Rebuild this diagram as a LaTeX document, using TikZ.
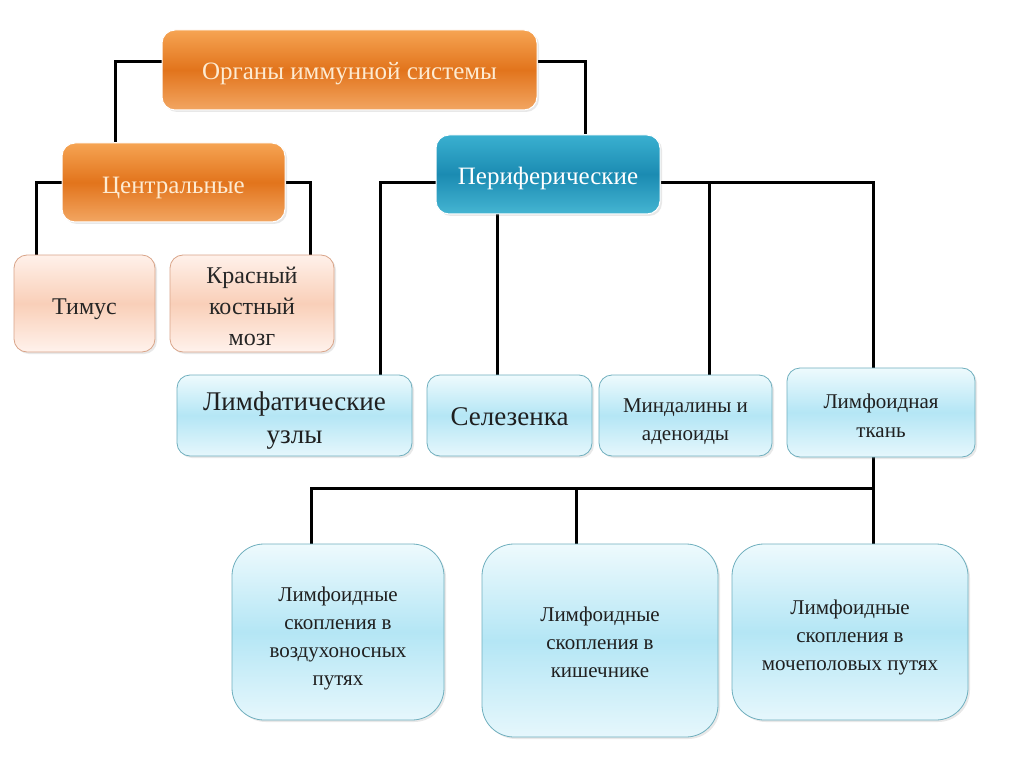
\documentclass[tikz,border=0pt]{standalone}
\usepackage{fontspec}
\setmainfont{Liberation Serif}
\usetikzlibrary{shadows,backgrounds}
\definecolor{orT}{HTML}{F6A453}
\definecolor{orM}{HTML}{E2741C}
\definecolor{orB}{HTML}{F2A662}
\definecolor{blT}{HTML}{3AB0D0}
\definecolor{blM}{HTML}{1B8BB2}
\definecolor{blB}{HTML}{45B5D2}
\definecolor{lbT}{HTML}{EEFAFD}
\definecolor{lbM}{HTML}{B4E6F5}
\definecolor{lbB}{HTML}{E6F7FC}
\definecolor{lbD}{HTML}{6FAFBE}
\definecolor{pkT}{HTML}{FFF1EA}
\definecolor{pkM}{HTML}{F9CFB8}
\definecolor{pkB}{HTML}{FFF2EC}
\definecolor{pkD}{HTML}{D9A488}
\definecolor{cream}{HTML}{FDEBD2}
\newcommand{\boxtext}[2][-5pt]{\raisebox{#1}[\height][\depth]{\begin{tabular}{@{}c@{}}#2\end{tabular}}}
\tikzset{
  box/.style={rounded corners=13pt, inner sep=2pt,
    drop shadow={opacity=0.18, shadow xshift=2pt, shadow yshift=-2pt}},
  orbox/.style={box, draw=white, line width=1pt, top color=orT, bottom color=orB, middle color=orM, text=cream},
  blbox/.style={box, draw=white, line width=1pt, top color=blT, bottom color=blB, middle color=blM, text=white},
  pkbox/.style={box, draw=pkD, line width=0.8pt, top color=pkT, bottom color=pkB, middle color=pkM, text=black!85},
  lbbox/.style={box, draw=lbD, line width=0.8pt, top color=lbT, bottom color=lbB, middle color=lbM, text=black!88},
  bigbox/.style={lbbox, rounded corners=32pt},
  conn/.style={draw=black, line width=3pt}
}
\begin{document}
\begin{tikzpicture}[x=1pt,y=-1pt]
\useasboundingbox (0,0) rectangle (1024,767);
% nodes
\node[orbox, minimum width=375pt, minimum height=80pt, font=\fontsize{25}{29}\selectfont] (top) at (349.5,70) {\boxtext[-4pt]{Органы иммунной системы}};
\node[orbox, minimum width=223pt, minimum height=79pt, font=\fontsize{25}{29}\selectfont] (cent) at (173.5,182.5) {\boxtext{Центральные}};
\node[blbox, minimum width=224pt, minimum height=79pt, font=\fontsize{25}{29}\selectfont] (peri) at (548,174.5) {\boxtext[-4pt]{Периферические}};
\node[pkbox, minimum width=141pt, minimum height=97pt, font=\fontsize{24}{31}\selectfont] (tim) at (84.5,303.5) {\boxtext{Тимус}};
\node[pkbox, minimum width=164pt, minimum height=97pt, font=\fontsize{24}{31}\selectfont] (kr) at (252,303.5) {\boxtext{Красный\\костный\\мозг}};
\node[lbbox, minimum width=235pt, minimum height=81pt, font=\fontsize{27}{33}\selectfont] (lim) at (294.5,415.5) {\boxtext{Лимфатические\\узлы}};
\node[lbbox, minimum width=165pt, minimum height=81pt, font=\fontsize{27}{33}\selectfont] (sel) at (509.5,415.5) {\boxtext[-3pt]{Селезенка}};
\node[lbbox, minimum width=173pt, minimum height=81pt, font=\fontsize{21}{28}\selectfont] (min) at (685.5,415.5) {\boxtext{Миндалины и\\аденоиды}};
\node[lbbox, minimum width=188pt, minimum height=89pt, font=\fontsize{21}{29}\selectfont] (lt) at (881,412.5) {\boxtext{Лимфоидная\\ткань}};
\node[bigbox, minimum width=212pt, minimum height=176pt, font=\fontsize{21}{28}\selectfont] (b1) at (338,632) {\boxtext[-6pt]{Лимфоидные\\скопления в\\воздухоносных\\путях}};
\node[bigbox, minimum width=236pt, minimum height=193pt, font=\fontsize{21}{28}\selectfont] (b2) at (600,640.5) {\boxtext[-3pt]{Лимфоидные\\скопления в\\кишечнике}};
\node[bigbox, minimum width=236pt, minimum height=176pt, font=\fontsize{21}{28}\selectfont] (b3) at (850,632) {\boxtext[-5pt]{Лимфоидные\\скопления в\\мочеполовых путях}};
% coordinates
\coordinate (cjT) at ([xshift=-58.5pt]cent.north);
\coordinate (cjL) at ([xshift=23pt]tim.north west);
\coordinate (cjR) at ([xshift=-24pt]kr.north east);
\coordinate (tjR) at ([xshift=37pt]peri.north);
\coordinate (pjL) at ([yshift=-8pt]peri.west);
\coordinate (pjR) at ([yshift=-8pt]peri.east);
\coordinate (limT) at ([xshift=-32pt]lim.north east);
\coordinate (selT) at ([xshift=-12.5pt]sel.north);
\coordinate (minT) at ([xshift=23.5pt]min.north);
\coordinate (ltT) at ([xshift=-8pt]lt.north);
\coordinate (ltB) at ([xshift=-8pt]lt.south);
\coordinate (b1T) at ([xshift=-27pt]b1.north);
\coordinate (b2T) at ([xshift=-24pt]b2.north);
\coordinate (b3T) at ([xshift=23pt]b3.north);
\coordinate (bus) at (873,488);
% connectors
\begin{scope}[on background layer]
\fill[white] (0,0) rectangle (1024,767);
\draw[conn] ([yshift=8pt]top.west) -| (cjT);
\draw[conn] ([yshift=8pt]top.east) -| (tjR);
\draw[conn] (cent.west) -| (cjL);
\draw[conn] (cent.east) -| (cjR);
\draw[conn] (pjL) -| (limT);
\draw[conn] (pjR) -| (ltT);
\draw[conn] (selT) -- (selT |- peri.south);
\draw[conn] (minT) -- (minT |- pjR);
\draw[conn] (ltB) -- (b3T);
\draw[conn] (b1T) |- (bus);
\draw[conn] (b2T) -- (b2T |- bus);
\end{scope}
\end{tikzpicture}
\end{document}
